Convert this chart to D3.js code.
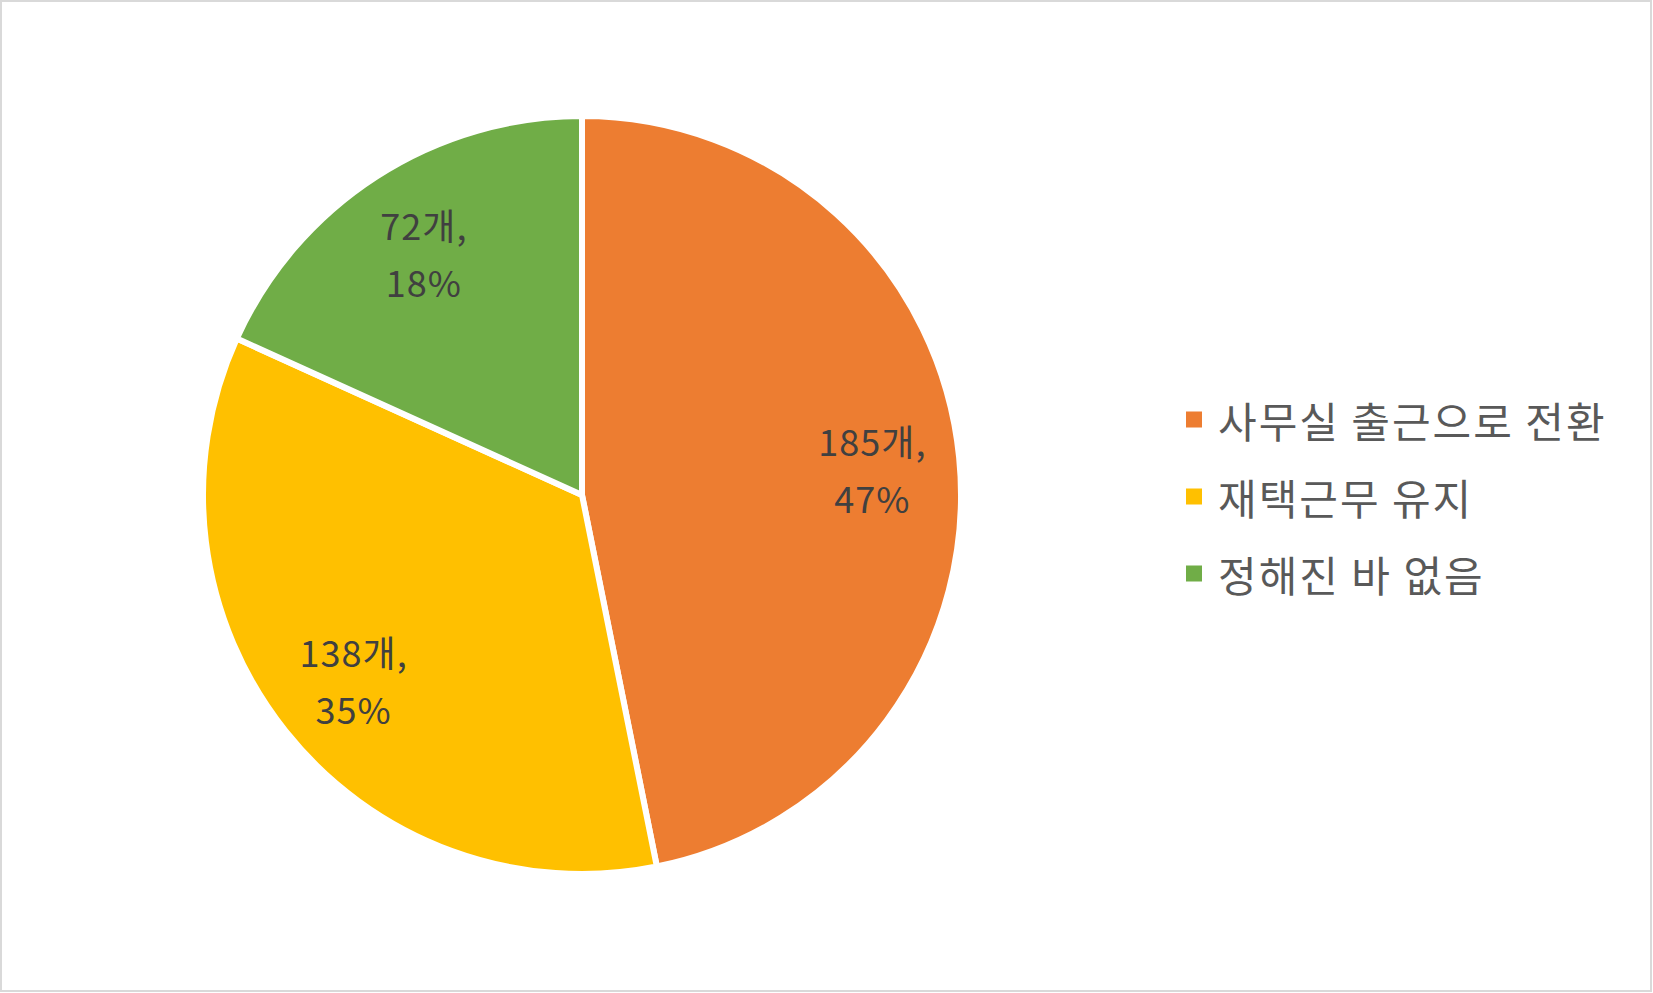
<!DOCTYPE html>
<head>
<meta charset="utf-8">
<style>
body { margin: 0; background: #fff; }
.label text { font: 36px "Noto Sans CJK KR", sans-serif; fill: #404040; letter-spacing: 1px; }
.legend text { font: 42px "Noto Sans CJK KR", sans-serif; fill: #595959; letter-spacing: 2px; }
</style>
<title>재택근무 전환 계획</title>
</head>
<body>
<svg width="1653" height="993"></svg>
<script src="https://d3js.org/d3.v7.min.js"></script>
<script>
/* global d3 */
var categories = ["사무실 출근으로 전환", "재택근무 유지", "정해진 바 없음"],
    counts = [185, 138, 72],
    percents = ["47%", "35%", "18%"],
    colors = ["#ed7d31", "#ffc000", "#70ad47"]

var svg = d3.select("svg"),
    cx = 582, cy = 495, radius = 379

svg.append("rect")
    .attr("x", 1).attr("y", 1)
    .attr("width", 1650).attr("height", 990)
    .attr("fill", "#fff")
    .attr("stroke", "#d9d9d9")
    .attr("stroke-width", 2)

var data = categories.map((c, i) => ({name: c, count: counts[i], pct: percents[i], color: colors[i]}))

var pie = d3.pie().sort(null).value(d => d.count)
var arc = d3.arc().innerRadius(0).outerRadius(radius)
var labelArc = d3.arc().innerRadius(radius * 0.77).outerRadius(radius * 0.77)

var g = svg.append("g")
    .attr("transform", "translate(" + cx + "," + cy + ")")

var arcs = pie(data)

g.selectAll(".slice")
  .data(arcs)
  .enter().append("path")
    .attr("class", "slice")
    .attr("d", arc)
    .attr("fill", d => d.data.color)
    .attr("stroke", "#fff")
    .attr("stroke-width", 6)
    .attr("stroke-linejoin", "round")

var labels = g.selectAll(".label")
  .data(arcs)
  .enter().append("g")
    .attr("class", "label")
    .attr("transform", d => "translate(" + labelArc.centroid(d) + ")")

labels.append("text")
    .attr("text-anchor", "middle")
    .attr("y", -10)
    .text(d => d.data.count + "개,")
labels.append("text")
    .attr("text-anchor", "middle")
    .attr("y", 47)
    .text(d => d.data.pct)

var legendY = d3.scaleBand().domain(categories).range([381, 612])

var legend = svg.append("g")
    .attr("class", "legend")
  .selectAll("g")
  .data(data)
  .enter().append("g")
    .attr("transform", d => "translate(1186," + (legendY(d.name) + legendY.bandwidth() / 2) + ")")

legend.append("rect")
    .attr("x", 0).attr("y", -8)
    .attr("width", 16).attr("height", 16)
    .attr("fill", d => d.color)

legend.append("text")
    .attr("x", 32)
    .attr("dominant-baseline", "central")
    .text(d => d.name)
</script>
</body>
